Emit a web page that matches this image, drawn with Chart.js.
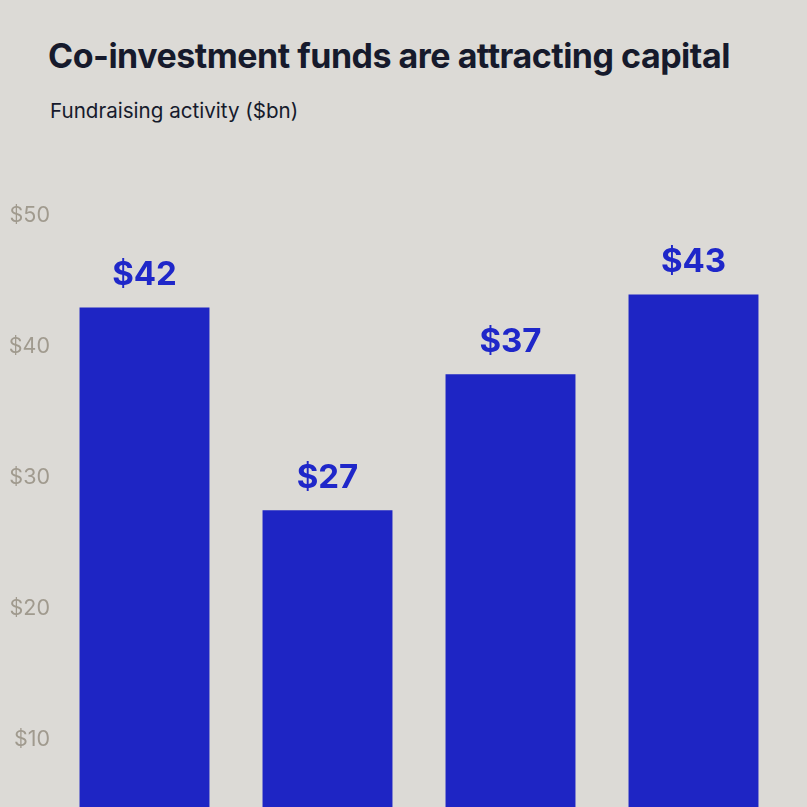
<!DOCTYPE html>
<html>
<head>
<meta charset="utf-8">
<script src="https://cdn.jsdelivr.net/npm/chart.js@4.4.1/dist/chart.umd.min.js"></script>
<style>
  html, body { margin: 0; padding: 0; background: #dcdad6; overflow: hidden; }
  body { width: 807px; height: 807px; position: relative; font-family: Inter, "Noto Sans", sans-serif; }
  #title { position: absolute; left: 48px; top: 35px; font-size: 34px; font-weight: 700; color: #161a2c; letter-spacing: -0.5px; white-space: nowrap; }
  #subtitle { position: absolute; left: 50px; top: 98px; font-size: 20.6px; font-weight: 400; color: #161a2c; white-space: nowrap; }
  #wrap { position: absolute; left: 0; top: 200px; width: 807px; height: 690px; }
</style>
</head>
<body>
<div id="title">Co-investment funds are attracting capital</div>
<div id="subtitle">Fundraising activity ($bn)</div>
<div id="wrap"><canvas id="chart"></canvas></div>
<script>
// Chart data
const categories = ['A', 'B', 'C', 'D'];
const fundraising = [43.0, 27.5, 37.9, 44.0];
const valueLabels = ['$42', '$27', '$37', '$43'];
const yTicks = [10, 20, 30, 40, 50];

// Draw the value labels above each bar
const barLabels = {
    id: 'barLabels',
    afterDatasetsDraw(chart) {
        const ctx = chart.ctx;
        const meta = chart.getDatasetMeta(0);
        ctx.save();
        ctx.font = '700 33px Inter, "Noto Sans", sans-serif';
        ctx.fillStyle = '#1f27c9';
        ctx.textAlign = 'center';
        ctx.textBaseline = 'alphabetic';
        meta.data.forEach((bar, i) => {
            ctx.fillText(valueLabels[i], bar.x, bar.y - 22);
        });
        ctx.restore();
    }
};

const ctx = document.getElementById('chart').getContext('2d');
new Chart(ctx, {
    type: 'bar',
    data: {
        labels: categories,
        datasets: [{
            data: fundraising,
            backgroundColor: '#1e25c4',
            barPercentage: 0.71,
            categoryPercentage: 1
        }]
    },
    options: {
        responsive: true,
        maintainAspectRatio: false,
        animation: false,
        layout: { padding: { top: 14, bottom: 20, right: 22, left: 0 } },
        plugins: { legend: { display: false }, tooltip: { enabled: false } },
        scales: {
            x: { display: false },
            y: {
                min: 0,
                max: 50,
                afterFit(scale) { scale.width = 53; },
                afterBuildTicks(scale) { scale.ticks = yTicks.map(v => ({ value: v })); },
                grid: { display: false, drawTicks: false },
                border: { display: false },
                ticks: {
                    padding: 3,
                    color: '#a09a8e',
                    font: { family: 'Inter, "Noto Sans", sans-serif', size: 21.5 },
                    callback: v => '$' + v
                }
            }
        }
    },
    plugins: [barLabels]
});
</script>
</body>
</html>
